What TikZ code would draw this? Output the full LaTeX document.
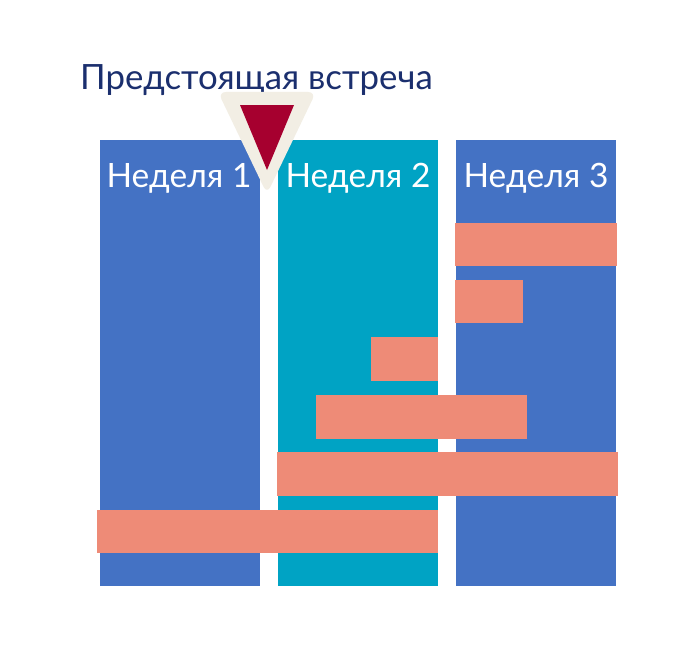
\documentclass[tikz,border=0pt]{standalone}
\usepackage{fontspec}
\setmainfont{Lato}
\definecolor{colblue}{HTML}{4472C4}
\definecolor{colteal}{HTML}{00A3C4}
\definecolor{barsalmon}{HTML}{EE8B77}
\definecolor{markred}{HTML}{A6002F}
\definecolor{markbeige}{HTML}{F2EEE4}
\definecolor{titlenavy}{HTML}{1B2F6E}
\tikzset{
  weekcol/.style={fill=#1, draw=none, anchor=north west, minimum width=160pt, minimum height=446pt, inner sep=0pt, outer sep=0pt},
  taskbar/.style={fill=barsalmon, draw=none, anchor=north west, inner sep=0pt, outer sep=0pt},
  weeklabel/.style={text=white, font=\fontsize{33.5}{40}\selectfont, anchor=base, inner sep=0pt},
  titletext/.style={text=titlenavy, font=\fontsize{34.8}{42}\selectfont, anchor=base west, inner sep=0pt}
}
\begin{document}
\begin{tikzpicture}[x=1pt, y=-1pt]
\useasboundingbox[fill=white] (0,0) rectangle (700,650);
% columns
\node[weekcol=colblue] (c1) at (100,140) {};
\node[weekcol=colteal] (c2) at (278,140) {};
\node[weekcol=colblue] (c3) at (456,140) {};
% bars
\node[taskbar, minimum width=162pt, minimum height=43pt] (b1) at (455,223) {};
\node[taskbar, minimum width=68pt, minimum height=43pt] (b2) at (455,280) {};
\node[taskbar, minimum width=67pt, minimum height=44pt] (b3) at (371,337) {};
\node[taskbar, minimum width=211pt, minimum height=44pt] (b4) at (316,395) {};
\node[taskbar, minimum width=341pt, minimum height=44pt] (b5) at (277,452) {};
\node[taskbar, minimum width=341pt, minimum height=43pt] (b6) at (97,510) {};
% labels
\node[weeklabel] (l1) at (179,187) {Неделя 1};
\node[weeklabel] (l2) at (358,187) {Неделя 2};
\node[weeklabel] (l3) at (536,187) {Неделя 3};
% title
\node[titletext] (title) at (80,89) {Предстоящая встреча};
% marker
\coordinate (mk) at (267,105);
\fill[markbeige, rounded corners=8pt] (218,92) -- (316,92) -- (267,194) -- cycle;
\fill[markred] (240,105) -- (294,105) -- (267,170) -- cycle;
\end{tikzpicture}
\end{document}
